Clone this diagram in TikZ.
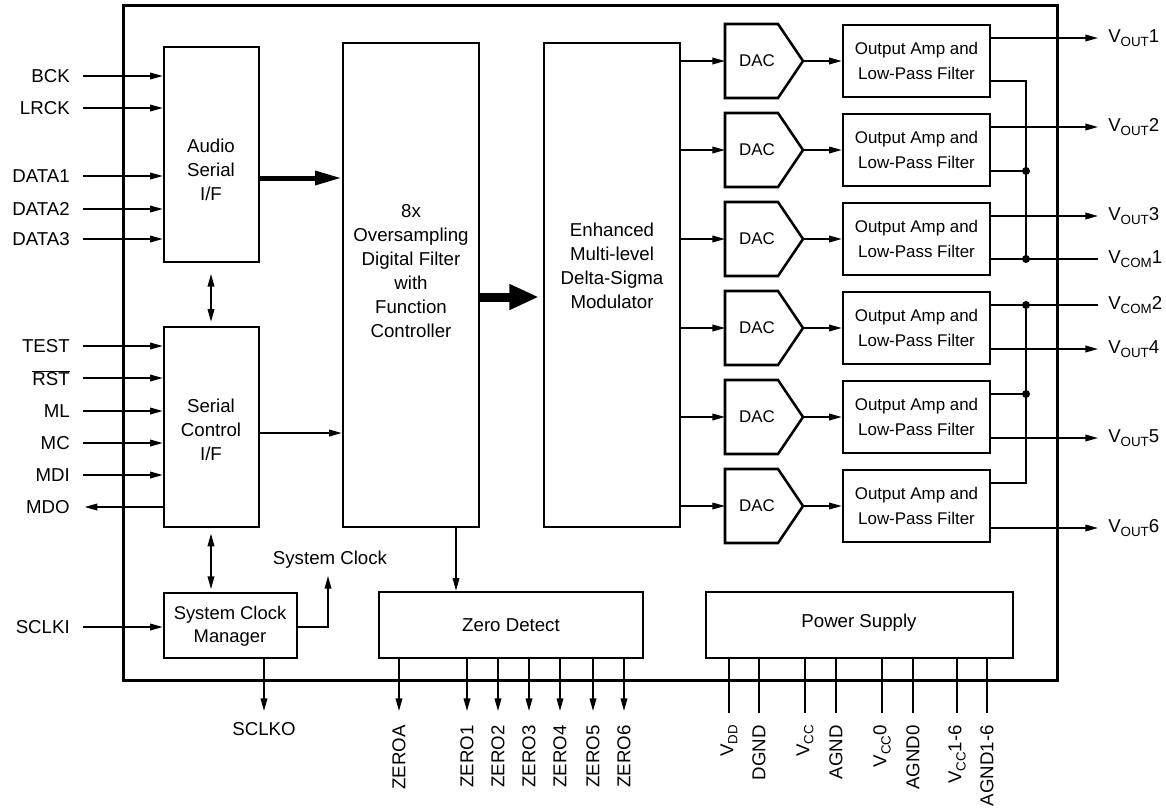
\documentclass[tikz,border=0pt]{standalone}
\usepackage{fontspec}
\setmainfont{Liberation Sans}
\usetikzlibrary{arrows.meta,fit,calc}
\newcommand\pinsub[1]{\raisebox{-0.22em}{\fontsize{10}{10}\selectfont #1}}
\begin{document}
\begin{tikzpicture}[x=0.75pt,y=-0.75pt,
  txt/.style={font=\fontsize{14}{18}\selectfont, inner sep=0pt, align=center},
  small/.style={font=\fontsize{12.7}{18.5}\selectfont, inner sep=0pt, align=center},
  blk/.style={draw, line width=1.9pt, inner sep=0pt},
  wire/.style={line width=1.1pt},
  arr/.style={wire, -{Triangle[length=9.5pt,width=5pt]}},
  barr/.style={wire, {Triangle[length=9.5pt,width=5pt]}-{Triangle[length=9.5pt,width=5pt]}},
  lbl/.style={txt, anchor=east},
  rlbl/.style={txt, anchor=west},
  rot/.style={txt, rotate=90, anchor=east},
  jdot/.style={circle, fill, inner sep=0pt, minimum size=6pt},
]
\useasboundingbox (0,0) rectangle (1166,807);
% chip outline
\node[draw, line width=2.25pt, inner sep=0pt, fit={(123,5)(1057,680)}] (chip) {};

% main blocks
\node[blk, fit={(164,47)(259,262)}] (asi) {};
\node[txt] (asit) at (211,170) {Audio\\Serial\\I/F};
\node[blk, fit={(164,327)(259,527)}] (sci) {};
\node[txt] (scit) at (211,430) {Serial\\Control\\I/F};
\node[blk, fit={(343,43)(479,527)}] (filt) {};
\node[txt] (filtt) at (411,271) {8x\\Oversampling\\Digital Filter\\with\\Function\\Controller};
\node[blk, fit={(544,43)(680,527)}] (mod) {};
\node[txt] (modt) at (612,266) {Enhanced\\Multi-level\\Delta-Sigma\\Modulator};
\node[blk, fit={(164,593)(297,658)}] (scm) {};
\node[txt, font=\fontsize{13.8}{17}\selectfont] (scmt) at (230,626) {System Clock\\Manager};
\node[blk, fit={(379,592)(643,658)}] (zd) {};
\node[txt] (zdt) at (511,625) {Zero Detect};
\node[blk, fit={(706,592)(1013,658)}] (ps) {};
\node[txt] (pst) at (859,623) {Power Supply};

% audio inputs
\foreach \n/\t/\y in {bck/BCK/76, lrck/LRCK/108, da1/DATA1/176, da2/DATA2/209, da3/DATA3/239} {
  \node[lbl] (\n) at (70,\y) {\t};
  \draw[arr] ([xshift=9.75pt]\n.east) -- (\n.east -| asi.west);
}
% control inputs
\foreach \n/\t/\y in {test/TEST/346, rst/{$\overline{\hbox{RST}}$}/378, ml/ML/411, mc/MC/443, mdi/MDI/475} {
  \node[lbl] (\n) at (70,\y) {\t};
  \draw[arr] ([xshift=9.75pt]\n.east) -- (\n.east -| sci.west);
}
\node[lbl] (mdo) at (70,507) {MDO};
\draw[arr] (mdo.east -| sci.west) -- ([xshift=11pt]mdo.east);

% bidirectional
\coordinate (bx) at (211,300);
\draw[barr, shorten <=8pt, shorten >=3pt] (bx |- asi.south) -- (bx |- sci.north);
\draw[barr, shorten <=4pt, shorten >=2pt] (bx |- sci.south) -- (bx |- scm.north);

% thick data arrows
\coordinate (y178) at (0,178);
\coordinate (y297) at (0,297);
\coordinate (y433) at (0,433);
\draw[line width=3.75pt, -{Triangle[length=20pt,width=10pt]}] (asi.east |- y178) -- (filt.west |- y178);
\draw[line width=6.75pt, -{Triangle[length=22pt,width=18pt]}] (filt.east |- y297) -- ([xshift=-3pt]mod.west |- y297);
\draw[arr] (sci.east |- y433) -- (filt.west |- y433);

% DACs and output amps
\foreach \i/\c in {1/61,2/150,3/239,4/328,5/417,6/506} {
  \draw[blk, line join=miter] (725,\c-37) -- (778,\c-37) -- (803,\c) -- (778,\c+37) -- (725,\c+37) -- cycle;
  \coordinate (dacin\i) at (725,\c);
  \coordinate (dacout\i) at (803,\c);
  \node[small] (dac\i) at (757,\c) {DAC};
  \node[blk, fit={(843,\c-36)(990,\c+36)}] (amp\i) {};
  \node[small] (ampt\i) at (amp\i.center) {Output Amp and\\Low-Pass Filter};
  \draw[arr] (dacin\i -| mod.east) -- (dacin\i);
  \draw[arr] (dacout\i) -- (dacout\i -| amp\i.west);
}

% output labels
\node[rlbl] (vo1) at (1108,38) {V\pinsub{OUT}1};
\node[rlbl] (vo2) at (1108,127) {V\pinsub{OUT}2};
\node[rlbl] (vo3) at (1108,216) {V\pinsub{OUT}3};
\node[rlbl] (vc1) at (1108,259) {V\pinsub{COM}1};
\node[rlbl] (vc2) at (1108,305) {V\pinsub{COM}2};
\node[rlbl] (vo4) at (1108,349) {V\pinsub{OUT}4};
\node[rlbl] (vo5) at (1108,438) {V\pinsub{OUT}5};
\node[rlbl] (vo6) at (1108,528) {V\pinsub{OUT}6};
\draw[arr] (vo1.west -| amp1.east) -- ([xshift=-7.5pt]vo1.west);
\draw[arr] (vo2.west -| amp2.east) -- ([xshift=-7.5pt]vo2.west);
\draw[arr] (vo3.west -| amp3.east) -- ([xshift=-7.5pt]vo3.west);
\draw[arr] (vo4.west -| amp4.east) -- ([xshift=-7.5pt]vo4.west);
\draw[arr] (vo5.west -| amp5.east) -- ([xshift=-7.5pt]vo5.west);
\draw[arr] (vo6.west -| amp6.east) -- ([xshift=-7.5pt]vo6.west);

% common bus
\coordinate (b1) at (1026,81);
\coordinate (b2) at (1026,171);
\coordinate (b3) at (1026,259);
\coordinate (b4) at (1026,305);
\coordinate (b5) at (1026,394);
\coordinate (b6) at (1026,483);
\draw[wire] (b1 -| amp1.east) -- (b1) -- (b3);
\draw[wire] (b2 -| amp2.east) -- (b2);
\draw[wire] (b3 -| amp3.east) -- ([xshift=-7.5pt]vc1.west);
\draw[wire] (b4 -| amp4.east) -- ([xshift=-7.5pt]vc2.west);
\draw[wire] (b4) -- (b6) -- (b6 -| amp6.east);
\draw[wire] (b5 -| amp5.east) -- (b5);
\foreach \b in {b2,b3,b4,b5} \node[jdot] at (\b) {};

% system clock
\coordinate (sc1) at (328,627);
\coordinate (sc2) at (328,576);
\draw[arr] (sc1 -| scm.east) -- (sc1) -- (sc2);
\node[txt] (sclab) at (330,560) {System Clock};
\node[lbl] (sclki) at (70,627) {SCLKI};
\draw[arr] ([xshift=9.75pt]sclki.east) -- (sclki.east -| scm.west);
\node[txt, anchor=north] (sclko) at (264,722) {SCLKO};
\draw[arr] (sclko.north |- scm.south) -- ([yshift=8.25pt]sclko.north);

% filter to zero detect
\coordinate (fz) at (456,560);
\draw[arr] (fz |- filt.south) -- (fz |- zd.north);

% zero outputs
\foreach \t/\x [count=\k] in {ZEROA/399, ZERO1/467, ZERO2/498, ZERO3/529, ZERO4/560, ZERO5/593, ZERO6/624} {
  \node[rot] (zo\k) at (\x,725) {\t};
  \draw[arr] (zo\k.east |- zd.south) -- ([yshift=10.5pt]zo\k.east);
}

% power pins
\foreach \t/\x [count=\k] in {V\pinsub{DD}/729, DGND/759, V\pinsub{CC}/805, AGND/836, V\pinsub{CC}0/882, AGND0/913, V\pinsub{CC}1-6/957, AGND1-6/987} {
  \node[rot] (pp\k) at (\x,725) {\t};
  \draw[wire] (pp\k.east |- ps.south) -- ([yshift=9pt]pp\k.east);
}
\end{tikzpicture}
\end{document}
